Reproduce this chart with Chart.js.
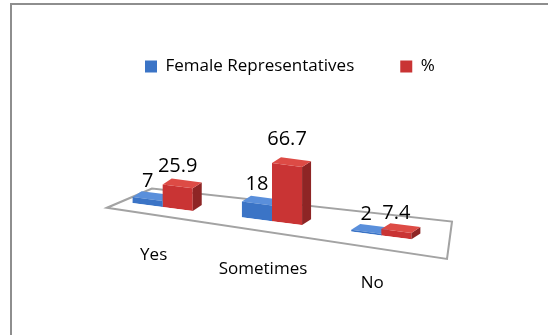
<!DOCTYPE html>
<html>
<head>
<meta charset="utf-8">
<script src="https://cdn.jsdelivr.net/npm/chart.js@4.4.1/dist/chart.umd.min.js"></script>
<style>
  body{margin:0;background:#fff;overflow:hidden;}
  #marco{position:absolute;left:10px;top:3px;width:600px;height:400px;border:2px solid #8e8e8e;}
  #grafico{position:absolute;left:0;top:0;}
</style>
</head>
<body>
<div id="marco"></div>
<canvas id="grafico" width="548" height="335"></canvas>
<script>
var categorias = ["Yes", "Sometimes", "No"];
var representantes = [7, 18, 2];
var porcentaje = [25.9, 66.7, 7.4];

// pendiente del piso y profundidad de las barras en 3D
var inclinacion = 0.13;
var profX = 9, profY = 7;

var colores = {
    azul: {frente: '#3b74c6', arriba: '#5a8fdb', lado: '#2a5599'},
    rojo: {frente: '#c93434', arriba: '#dd4b45', lado: '#8e2525'}
};

function origenX(chart){
    return chart.scales.x.getPixelForValue(0);
}
// y real de un punto despues de inclinar
function yReal(chart, x, y){
    return y + inclinacion * (x - origenX(chart));
}

function piso(chart, ctx){
    var a = chart.chartArea;
    var base = chart.scales.y.getPixelForValue(0);
    ctx.save();
    ctx.beginPath();
    ctx.moveTo(a.left - 1, base + 8);
    ctx.lineTo(a.left + 44, base - 17);
    ctx.lineTo(a.right + 16, base - 23);
    ctx.lineTo(a.right + 11, base + 15);
    ctx.closePath();
    ctx.fillStyle = '#ffffff';
    ctx.fill();
    ctx.lineWidth = 2;
    ctx.strokeStyle = '#a3a3a3';
    ctx.stroke();
    ctx.restore();
}

function caras(ctx, meta, c){
    meta.data.forEach(function(barra){
        var p = barra.getProps(['x', 'y', 'base', 'width'], true);
        var l = p.x - p.width / 2, r = p.x + p.width / 2;
        ctx.fillStyle = c.lado;
        ctx.beginPath();
        ctx.moveTo(r, p.y);
        ctx.lineTo(r + profX, p.y - profY);
        ctx.lineTo(r + profX, p.base - profY);
        ctx.lineTo(r, p.base);
        ctx.closePath();
        ctx.fill();
        ctx.fillStyle = c.arriba;
        ctx.beginPath();
        ctx.moveTo(l, p.y);
        ctx.lineTo(r, p.y);
        ctx.lineTo(r + profX, p.y - profY);
        ctx.lineTo(l + profX, p.y - profY);
        ctx.closePath();
        ctx.fill();
    });
}

var barras3d = {
    id: 'barras3d',
    beforeDatasetsDraw: function(chart){
        var ctx = chart.ctx;
        ctx.save();
        var x0 = origenX(chart);
        ctx.transform(1, inclinacion, 0, 1, 0, -inclinacion * x0);
        piso(chart, ctx);
        // las caras azules van primero para que el rojo las tape
        caras(ctx, chart.getDatasetMeta(0), colores.azul);
    },
    afterDatasetDraw: function(chart, args){
        if(args.index === 1){
            caras(chart.ctx, chart.getDatasetMeta(1), colores.rojo);
        }
    },
    afterDatasetsDraw: function(chart){
        var ctx = chart.ctx;
        ctx.restore();
        ctx.save();
        ctx.fillStyle = '#000';
        ctx.textAlign = 'center';
        ctx.textBaseline = 'middle';
        // valores encima de cada barra
        ctx.font = '20px "Open Sans"';
        chart.data.datasets.forEach(function(ds, i){
            chart.getDatasetMeta(i).data.forEach(function(barra, j){
                var alto = barra.base - barra.y;
                var y = yReal(chart, barra.x, barra.y);
                ctx.fillText(String(ds.data[j]), barra.x, y - 17 - alto * 0.15);
            });
        });
        // nombres de las categorias
        ctx.font = '17px "Open Sans"';
        var base = chart.scales.y.getPixelForValue(0);
        categorias.forEach(function(cat, j){
            var x = chart.scales.x.getPixelForValue(j);
            ctx.fillText(cat, x - 9, yReal(chart, x, base) + 48);
        });
        ctx.restore();
    }
};

// ejes vacios que solo reservan espacio a los lados
function ancho(w){
    return function(scale){ scale.width = w; };
}

new Chart(document.getElementById('grafico').getContext('2d'), {
    type: 'bar',
    data: {
        labels: categorias,
        datasets: [{
            label: 'Female Representatives',
            data: representantes,
            backgroundColor: colores.azul.frente,
            borderWidth: 0
        }, {
            label: '%',
            data: porcentaje,
            backgroundColor: colores.rojo.frente,
            borderWidth: 0
        }]
    },
    options: {
        responsive: false,
        animation: false,
        layout: {padding: {left: 99, right: 60, top: 12, bottom: 128}},
        datasets: {bar: {categoryPercentage: 0.55, barPercentage: 1}},
        scales: {
            x: {display: false},
            y: {
                min: 0, max: 140,
                ticks: {display: false}, grid: {display: false}, border: {display: false},
                afterFit: ancho(9)
            },
            derecha: {
                position: 'right',
                ticks: {display: false}, grid: {display: false}, border: {display: false},
                afterFit: ancho(52)
            }
        },
        plugins: {
            tooltip: {enabled: false},
            legend: {
                position: 'top',
                align: 'start',
                labels: {
                    boxWidth: 12,
                    boxHeight: 12,
                    padding: 46,
                    color: '#000',
                    font: {family: 'Open Sans', size: 17}
                }
            }
        }
    },
    plugins: [barras3d]
});
</script>
</body>
</html>
